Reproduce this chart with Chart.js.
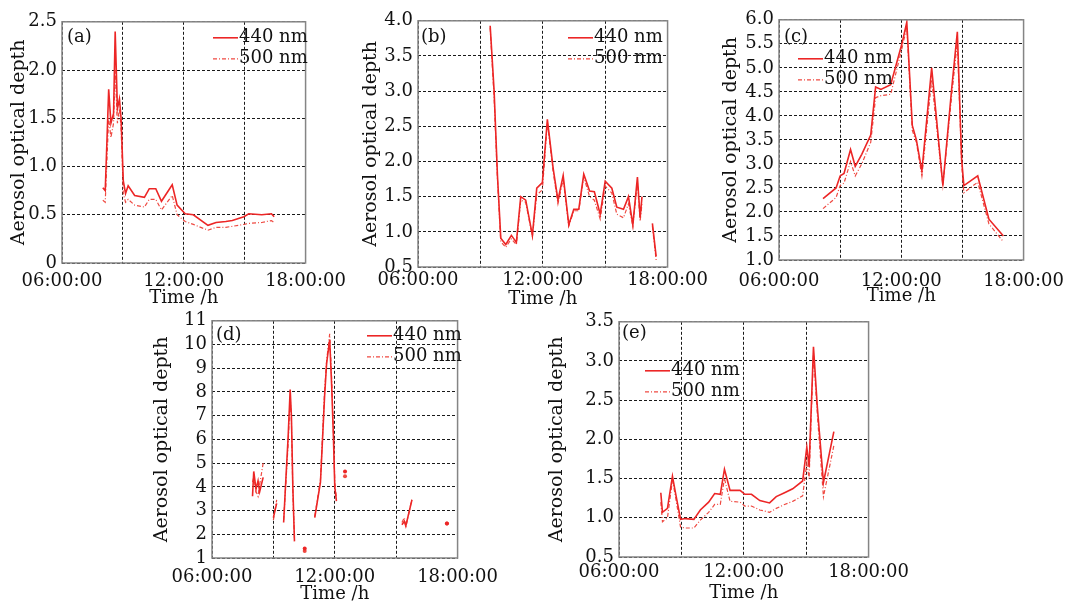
<!DOCTYPE html>
<html>
<head>
<meta charset="utf-8">
<title>Aerosol optical depth</title>
<script src="https://cdn.jsdelivr.net/npm/chart.js@4/dist/chart.umd.min.js"></script>
<style>
  html, body { margin: 0; padding: 0; background: #fff; }
  body { width: 1068px; height: 604px; position: relative; overflow: hidden; }
  .panel { position: absolute; }
</style>
</head>
<body>
<script>
// Data (hours of day, AOD)
const A_HOURS = [8.01, 8.13, 8.22, 8.30, 8.41, 8.54, 8.62, 8.73, 8.83, 8.91, 9.02, 9.13, 9.26, 9.58, 10.06, 10.30, 10.62, 10.90, 11.43, 11.67, 12.07, 12.47, 13.19, 13.59, 14.07, 14.39, 14.96, 15.20, 15.84, 16.32, 16.45];
const A_440 = [0.78, 0.75, 1.3, 1.8, 1.45, 1.55, 2.4, 1.6, 1.7, 1.5, 0.85, 0.72, 0.80, 0.70, 0.68, 0.77, 0.77, 0.64, 0.81, 0.60, 0.51, 0.50, 0.39, 0.42, 0.43, 0.44, 0.48, 0.51, 0.50, 0.51, 0.48];
const A_500 = [0.65, 0.63, 1.1, 1.5, 1.3, 1.45, 2.0, 1.45, 1.6, 1.4, 0.72, 0.63, 0.66, 0.60, 0.58, 0.66, 0.66, 0.55, 0.70, 0.50, 0.43, 0.40, 0.34, 0.37, 0.37, 0.38, 0.40, 0.41, 0.42, 0.44, 0.42];

const B_HOURS = [9.47, 9.66, 9.82, 9.98, 10.22, 10.49, 10.73, 10.94, 11.18, 11.50, 11.71, 11.98, 12.22, 12.50, 12.73, 12.98, 13.25, 13.49, 13.73, 13.97, 14.25, 14.48, 14.76, 15.00, 15.32, 15.56, 15.88, 16.12, 16.33, 16.55, 16.68, 16.77, 17.0, 17.27, 17.45];
const B_440 = [3.93, 3.0, 1.8, 0.91, 0.82, 0.95, 0.85, 1.5, 1.45, 0.95, 1.62, 1.7, 2.6, 1.9, 1.45, 1.8, 1.1, 1.32, 1.32, 1.82, 1.58, 1.57, 1.25, 1.72, 1.62, 1.35, 1.32, 1.5, 1.1, 1.78, 1.2, 1.5, null, 1.12, 0.65];
const B_500 = [3.9, 2.9, 1.75, 0.86, 0.78, 0.9, 0.82, 1.45, 1.42, 0.93, 1.52, 1.6, 2.55, 1.85, 1.4, 1.75, 1.08, 1.3, 1.3, 1.78, 1.5, 1.45, 1.18, 1.65, 1.55, 1.25, 1.2, 1.4, 1.08, 1.7, 1.15, 1.4, null, 1.08, 0.6];

const C_HOURS = [8.16, 8.80, 9.00, 9.19, 9.51, 9.74, 10.06, 10.50, 10.74, 11.00, 11.48, 12.03, 12.27, 12.54, 12.74, 13.01, 13.49, 14.04, 14.48, 14.75, 14.96, 15.07, 15.75, 16.30, 17.01];
const C_440 = [2.28, 2.5, 2.75, 2.8, 3.3, 2.95, 3.2, 3.6, 4.6, 4.55, 4.65, 5.5, 5.95, 3.8, 3.5, 2.85, 5.0, 2.55, 4.6, 5.75, 3.1, 2.55, 2.75, 1.85, 1.5];
const C_500 = [2.07, 2.3, 2.55, 2.6, 3.05, 2.75, 3.0, 3.45, 4.38, 4.42, 4.45, 5.4, 5.85, 3.7, 3.45, 2.75, 4.75, 2.55, 4.45, 5.55, 3.0, 2.4, 2.62, 1.75, 1.38];

const D_HOURS = [7.98, 8.04, 8.15, 8.25, 8.33, 8.5, 8.75, 9.0, 9.16, 9.3, 9.5, 9.62, 9.72, 9.82, 9.88, 9.95, 10.03, 10.3, 10.53, 10.8, 11.02, 11.3, 11.5, 11.6, 11.75, 11.85, 11.93, 12.0, 12.08, 12.3, 12.5, 13.5, 15.28, 15.4, 15.47, 15.77, 16.5, 17.48];
const D_440 = [3.6, 4.65, 3.9, 4.25, 3.8, 4.4, null, 2.7, 3.3, null, 2.5, 4.5, 6.1, 8.1, 7.0, 4.0, 1.7, null, 1.4, null, 2.7, 4.2, 7.8, 9.2, 10.2, 8.2, 6.2, 4.0, 3.4, null, 4.65, null, 2.4, 2.55, 2.35, 3.45, null, 2.45];
const D_500 = [4.2, 4.4, 3.8, 3.6, 4.1, 5.0, null, 2.6, 3.45, null, 2.6, 4.3, 5.8, 7.8, 6.8, 3.8, 1.8, null, 1.3, null, 2.75, 4.3, 8.0, 9.3, 10.45, 8.5, 6.4, 4.2, 3.5, null, 4.45, null, 2.5, 2.7, 2.3, 3.5, null, 2.45];

const E_HOURS = [8.01, 8.09, 8.33, 8.57, 8.73, 8.96, 9.2, 9.6, 9.91, 10.31, 10.6, 10.87, 11.07, 11.34, 11.82, 12.05, 12.37, 12.77, 13.24, 13.56, 13.96, 14.35, 14.83, 15.03, 15.14, 15.35, 15.54, 15.83, 16.33];
const E_440 = [1.32, 1.07, 1.12, 1.53, 1.3, 0.98, 0.99, 0.98, 1.1, 1.2, 1.31, 1.3, 1.62, 1.35, 1.35, 1.3, 1.3, 1.22, 1.19, 1.27, 1.32, 1.37, 1.47, 1.9, 1.65, 3.18, 2.4, 1.45, 2.1];
const E_500 = [1.2, 0.95, 1.0, 1.48, 1.25, 0.88, 0.87, 0.87, 0.97, 1.07, 1.17, 1.17, 1.5, 1.21, 1.2, 1.15, 1.15, 1.1, 1.07, 1.12, 1.17, 1.21, 1.28, 1.7, 1.5, 3.1, 2.3, 1.27, 1.92];

const SERIES_LABELS = ['440 nm', '500 nm'];
const X_TICK_LABELS = { 6: '06:00:00', 12: '12:00:00', 18: '18:00:00' };

// Styles
const FONT = "'DejaVu Serif', 'Liberation Serif', serif";
const TICK_SIZE = 18;
const TEXT_SIZE = 18;
const YTITLE_SIZE = 19;
const RED_440 = '#ec2626';
const RED_500 = '#ef4a42';
const DASH_500 = [4, 2, 1, 2];

// Panel layout: canvas box + axis sizes + legend/label offsets (relative to plot area)
const PANELS = [
    { id: 'a', hours: A_HOURS, s440: A_440, s500: A_500, yMin: 0, yMax: 2.5, yStep: 0.5,
      left: 8, top: 6, plotW: 250, plotH: 247, yW: 54, xH: 45, tickPad: 8,
      legend: { x: 151, y: 16 }, tag: { x: 5, y: 16 } },
    { id: 'b', hours: B_HOURS, s440: B_440, s500: B_500, yMin: 0.5, yMax: 4.0, yStep: 0.5,
      left: 360, top: 5, plotW: 251, plotH: 252, yW: 58, xH: 42, tickPad: 3,
      legend: { x: 150, y: 17 }, tag: { x: 3, y: 17 } },
    { id: 'c', hours: C_HOURS, s440: C_440, s500: C_500, yMin: 1.0, yMax: 6.0, yStep: 0.5,
      left: 720, top: 4, plotW: 254, plotH: 246, yW: 59, xH: 46, tickPad: 11,
      legend: { x: 19, y: 39 }, tag: { x: 5, y: 18 } },
    { id: 'd', hours: D_HOURS, s440: D_440, s500: D_500, yMin: 1, yMax: 11, yStep: 1,
      left: 151, top: 305, plotW: 253, plotH: 243, yW: 61, xH: 46, tickPad: 9,
      legend: { x: 155, y: 15 }, tag: { x: 4, y: 15 } },
    { id: 'e', hours: E_HOURS, s440: E_440, s500: E_500, yMin: 0.5, yMax: 3.5, yStep: 0.5,
      left: 546, top: 306, plotW: 253, plotH: 241, yW: 73, xH: 46, tickPad: 5,
      legend: { x: 26, y: 49 }, tag: { x: 3, y: 12 } }
];

const PAD_TOP = 10;
const PAD_RIGHT = 42;

// Frame, panel tag and legend drawn inside the plot area
const framePlugin = {
    id: 'frameAndLegend',
    afterDatasetsDraw(chart, args, opts) {
        const { ctx, chartArea: ca } = chart;
        ctx.save();
        ctx.strokeStyle = '#858585';
        ctx.lineWidth = 1.5;
        ctx.setLineDash([]);
        ctx.strokeRect(ca.left, ca.top, ca.right - ca.left, ca.bottom - ca.top);

        ctx.font = TEXT_SIZE + 'px ' + FONT;
        ctx.fillStyle = '#111';
        ctx.textBaseline = 'middle';
        ctx.textAlign = 'left';
        ctx.fillText('(' + opts.tag.text + ')', ca.left + opts.tag.x, ca.top + opts.tag.y);

        chart.data.datasets.forEach((ds, i) => {
            const y = ca.top + opts.legend.y + i * 21;
            const x = ca.left + opts.legend.x;
            ctx.strokeStyle = ds.borderColor;
            ctx.lineWidth = ds.borderWidth;
            ctx.setLineDash(ds.borderDash || []);
            ctx.beginPath();
            ctx.moveTo(x, y);
            ctx.lineTo(x + 25, y);
            ctx.stroke();
            ctx.setLineDash([]);
            ctx.fillText(ds.label, x + 26, y);
        });
        ctx.restore();
    }
};

// Show a small dot only where a value has no neighbours (isolated samples)
function isolatedRadius(ctx) {
    const d = ctx.dataset.data;
    const i = ctx.dataIndex;
    if (!d[i] || d[i].y == null) return 0;
    const prev = d[i - 1], next = d[i + 1];
    const lonely = (!prev || prev.y == null) && (!next || next.y == null);
    return lonely ? 2 : 0;
}

function makePanel(p) {
    const wrap = document.createElement('div');
    wrap.className = 'panel';
    const w = p.yW + p.plotW + PAD_RIGHT;
    const h = PAD_TOP + p.plotH + p.xH;
    wrap.style.left = p.left + 'px';
    wrap.style.top = p.top + 'px';
    wrap.style.width = w + 'px';
    wrap.style.height = h + 'px';
    const canvas = document.createElement('canvas');
    wrap.appendChild(canvas);
    document.body.appendChild(wrap);

    const pts = arr => p.hours.map((x, i) => ({ x: x, y: arr[i] }));
    const yDecimals = p.yStep < 1 ? 1 : 0;

    new Chart(canvas.getContext('2d'), {
        type: 'line',
        data: {
            datasets: [
                { label: SERIES_LABELS[0], data: pts(p.s440), borderColor: RED_440, borderWidth: 1.6,
                  pointRadius: isolatedRadius, pointBackgroundColor: RED_440, pointBorderWidth: 0 },
                { label: SERIES_LABELS[1], data: pts(p.s500), borderColor: RED_500, borderWidth: 1.2,
                  borderDash: DASH_500, pointRadius: isolatedRadius, pointBackgroundColor: RED_500, pointBorderWidth: 0 }
            ]
        },
        options: {
            responsive: true,
            maintainAspectRatio: false,
            animation: false,
            events: [],
            spanGaps: false,
            elements: { line: { tension: 0, fill: false } },
            layout: { autoPadding: false, padding: { top: PAD_TOP, right: PAD_RIGHT, left: 0, bottom: 0 } },
            plugins: {
                legend: { display: false },
                tooltip: { enabled: false },
                frameAndLegend: { tag: { text: p.id, x: p.tag.x, y: p.tag.y }, legend: p.legend }
            },
            scales: {
                x: {
                    type: 'linear',
                    min: 6,
                    max: 18,
                    afterFit: s => { s.height = p.xH; },
                    ticks: {
                        stepSize: 3,
                        padding: p.tickPad,
                        maxRotation: 0,
                        autoSkip: false,
                        color: '#111',
                        font: { family: FONT, size: TICK_SIZE },
                        callback: v => X_TICK_LABELS[v] || ''
                    },
                    grid: { color: '#1a1a1a', lineWidth: 1, drawTicks: false },
                    border: { display: false, dash: [3, 2] },
                    title: { display: true, text: 'Time /h', color: '#111', padding: 0,
                             font: { family: FONT, size: TEXT_SIZE, lineHeight: 1.1 } }
                },
                y: {
                    min: p.yMin,
                    max: p.yMax,
                    afterFit: s => { s.width = p.yW; },
                    ticks: {
                        stepSize: p.yStep,
                        padding: 5,
                        autoSkip: false,
                        color: '#111',
                        font: { family: FONT, size: TICK_SIZE },
                        callback: v => (v === 0 ? '0' : v.toFixed(yDecimals))
                    },
                    grid: { color: '#1a1a1a', lineWidth: 1, drawTicks: false },
                    border: { display: false, dash: [3, 2] },
                    title: { display: true, text: 'Aerosol optical depth', color: '#111', padding: 0,
                             font: { family: FONT, size: YTITLE_SIZE, lineHeight: 1.2 } }
                }
            }
        },
        plugins: [framePlugin]
    });
}

PANELS.forEach(makePanel);
</script>
</body>
</html>
